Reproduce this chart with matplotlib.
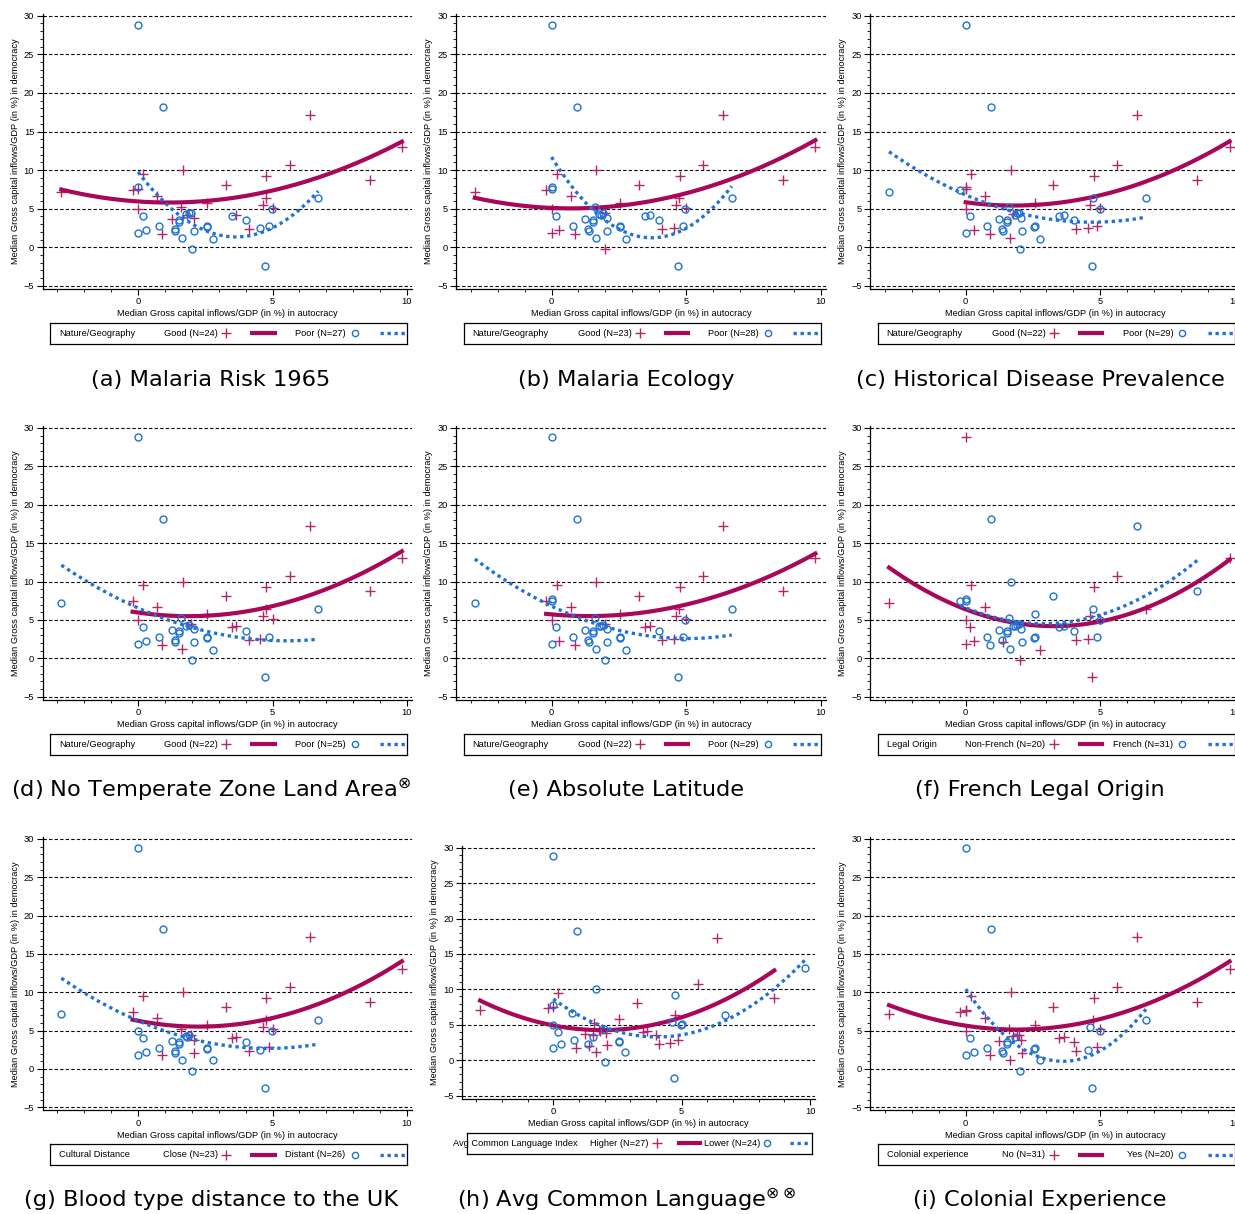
import numpy as np
import matplotlib.pyplot as plt

plt.rcParams['font.family'] = ['Liberation Sans', 'DejaVu Sans']

W, H = 1235, 1214

# median gross capital inflows/GDP (in %) per country: autocracy (x), democracy (y)
pt_x = [-2.85, -0.2, 0.0, 0.0, 0.2, 0.0, 0.17, 0.0, 0.29, 0.0,
        0.94, 0.71, 0.79, 0.89, 1.25, 1.36, 1.38, 1.54, 1.54, 1.6,
        1.65, 1.67, 1.77, 1.9, 1.98, 2.0, 2.08, 2.07, 2.56, 2.55,
        2.56, 2.78, 3.26, 3.48, 3.66, 4.01, 4.11, 4.55, 4.63, 4.71,
        4.76, 4.75, 4.87, 4.98, 5.0, 5.64, 6.38, 6.7, 8.61, 9.81,
        1.83]
pt_y = [7.15, 7.42, 7.75, 7.5, 9.5, 4.95, 4.06, 1.8, 2.25, 28.8,
        18.2, 6.7, 2.8, 1.77, 3.65, 2.33, 2.07, 3.55, 3.3, 5.2,
        1.17, 10.0, 4.27, 4.4, 4.45, -0.26, 2.15, 3.8, 2.78, 2.6,
        5.8, 1.12, 8.07, 4.06, 4.15, 3.5, 2.33, 2.46, 5.45, -2.44,
        9.24, 6.45, 2.82, 4.96, 5.15, 10.7, 17.2, 6.45, 8.75, 13.05,
        4.2]

captions = ['(a) Malaria Risk 1965', '(b) Malaria Ecology',
            '(c) Historical Disease Prevalence',
            r'(d) No Temperate Zone Land Area$^{\otimes}$',
            '(e) Absolute Latitude', '(f) French Legal Origin',
            '(g) Blood type distance to the UK',
            r'(h) Avg Common Language$^{\otimes\otimes}$',
            '(i) Colonial Experience']
legend_titles = ['Nature/Geography'] * 5 + ['Legal Origin', 'Cultural Distance',
                                            'Avg Common Language Index',
                                            'Colonial experience']
first_names = ['Good'] * 5 + ['Non-French', 'Close', 'Higher', 'No']
second_names = ['Poor'] * 5 + ['French', 'Distant', 'Lower', 'Yes']

# countries in the first group (crosses) of each split
first_ids = [
    [0, 1, 3, 4, 5, 11, 13, 14, 19, 21, 27, 30, 32, 34, 36, 38, 40, 41, 44, 45, 46, 48, 49, 50],
    [0, 1, 4, 5, 7, 8, 11, 13, 21, 24, 25, 30, 32, 36, 37, 38, 40, 41, 44, 45, 46, 48, 49],
    [2, 3, 4, 5, 8, 11, 13, 20, 21, 22, 30, 32, 36, 37, 38, 40, 42, 44, 45, 46, 48, 49],
    [1, 4, 5, 11, 13, 20, 21, 24, 30, 32, 33, 34, 36, 37, 38, 40, 41, 44, 45, 46, 48, 49],
    [1, 4, 5, 8, 11, 13, 21, 24, 30, 32, 33, 34, 36, 37, 38, 40, 41, 44, 45, 46, 48, 49],
    [0, 4, 5, 6, 7, 8, 9, 11, 16, 25, 31, 36, 37, 38, 39, 40, 44, 45, 47, 49],
    [1, 4, 11, 13, 19, 21, 24, 26, 27, 30, 32, 33, 34, 36, 38, 40, 41, 42, 44, 45, 46, 48, 49],
    [0, 1, 3, 4, 13, 14, 16, 17, 19, 20, 22, 23, 26, 27, 30, 32, 33, 34, 35, 36, 37, 41, 42,
     45, 46, 48, 50],
    [0, 1, 2, 3, 4, 5, 11, 13, 14, 19, 20, 21, 22, 23, 24, 26, 27, 30, 32, 33, 34, 35, 36, 40,
     41, 42, 44, 45, 46, 48, 49],
]
# countries without data for the splitting variable
missing_ids = [[], [], [], [2, 3, 43, 50], [], [], [2, 3], [], []]

RED = '#a8075a'
RED_PTS = '#b3266a'
BLUE = '#1f72d4'
XLIM = (-3.55, 10.2)
YLIM = (-5.4, 30.2)
FS = 6.7

fig = plt.figure(figsize=(W / 100, H / 100), dpi=100)


def place(left, top, width, height):
    return fig.add_axes([left / W, 1 - (top + height) / H, width / W, height / H])


col_zero = [138, 551.5, 965.7]
row_zero = [247.3, 658.3, 1069]
row_scale = [7.72, 7.68, 7.67]
cap_x = [211, 626, 1040]
cap_y = [380, 790, 1200]

x_all = np.array(pt_x)
y_all = np.array(pt_y)

for k in range(9):
    col, row = k % 3, k // 3
    if k == 7:
        x0, y0, sx, sy = 553.3, 1060.3, 25.67, 7.09
    else:
        x0, y0, sx, sy = col_zero[col], row_zero[row], 26.9, row_scale[row]
    left = x0 + XLIM[0] * sx
    width = (XLIM[1] - XLIM[0]) * sx
    top = y0 - YLIM[1] * sy
    height = (YLIM[1] - YLIM[0]) * sy
    ax = place(left, top, width, height)

    g1 = np.array(first_ids[k])
    g2 = np.array([i for i in range(len(pt_x)) if i not in first_ids[k] and i not in missing_ids[k]])

    for yv in range(-5, 31, 5):
        ax.axhline(yv, color='black', lw=0.8, ls=(0, (3, 2)), zorder=0)

    # group 1: crosses with a solid quadratic fit
    ax.plot(x_all[g1], y_all[g1], '+', ms=7.5, mew=1, color=RED_PTS, zorder=2)
    xs = np.linspace(x_all[g1].min(), x_all[g1].max(), 200)
    ax.plot(xs, np.polyval(np.polyfit(x_all[g1], y_all[g1], 2), xs), color=RED, lw=3, zorder=3)
    # group 2: hollow circles with a dotted quadratic fit
    ax.plot(x_all[g2], y_all[g2], 'o', ms=5, mfc='none', mew=1, color=BLUE, zorder=4)
    xs = np.linspace(x_all[g2].min(), x_all[g2].max(), 200)
    ax.plot(xs, np.polyval(np.polyfit(x_all[g2], y_all[g2], 2), xs), color=BLUE, lw=2.4,
            ls=(0, (1, 1.1)), zorder=5)

    ax.set_xlim(XLIM)
    ax.set_ylim(YLIM)
    ax.set_xticks([0, 5, 10])
    ax.set_xticks(range(-3, 11), minor=True)
    ax.set_yticks(range(-5, 31, 5))
    ax.set_yticks(range(-5, 31), minor=True)
    ax.tick_params(which='major', length=4, width=0.8, labelsize=FS, pad=2)
    ax.tick_params(which='minor', length=2, width=0.6)
    for s in ['top', 'right']:
        ax.spines[s].set_visible(False)
    for s in ['left', 'bottom']:
        ax.spines[s].set_linewidth(0.9)
    ax.set_xlabel('Median Gross capital inflows/GDP (in %) in autocracy', fontsize=FS, labelpad=2)
    ax.set_ylabel('Median Gross capital inflows/GDP (in %) in democracy', fontsize=FS, labelpad=3)

    # legend box under the plot
    if k == 7:
        box_left, box_w = left + 4.8, 345
        pos = dict(title=-0.04, lab1=0.525, m1=0.55, ln=(0.616, 0.675), lab2=0.85, m2=0.87,
                   dots=(0.936, 0.994))
    else:
        box_left, box_w = left + 7.5, 357
        pos = dict(title=0.025, lab1=0.47, m1=0.494, ln=(0.567, 0.629), lab2=0.828, m2=0.853,
                   dots=(0.924, 0.995))
    lax = place(box_left, top + height + 34, box_w, 21)
    lax.set_xlim(0, 1)
    lax.set_ylim(0, 1)
    lax.set_xticks([])
    lax.set_yticks([])
    for s in lax.spines.values():
        s.set_linewidth(0.9)
    lax.text(pos['title'], 0.5, legend_titles[k], fontsize=FS, ha='left', va='center')
    lax.text(pos['lab1'], 0.5, '%s (N=%d)' % (first_names[k], len(g1)), fontsize=FS,
             ha='right', va='center')
    lax.plot([pos['m1']], [0.5], '+', ms=7, mew=1, color=RED_PTS, clip_on=False)
    lax.plot(pos['ln'], [0.5, 0.5], color=RED, lw=3, clip_on=False)
    lax.text(pos['lab2'], 0.5, '%s (N=%d)' % (second_names[k], len(g2)), fontsize=FS,
             ha='right', va='center')
    lax.plot([pos['m2']], [0.5], 'o', ms=4.5, mfc='none', mew=1, color=BLUE, clip_on=False)
    lax.plot(pos['dots'], [0.5, 0.5], color=BLUE, lw=2.4, ls=(0, (1, 1.1)), clip_on=False)

    fig.text(cap_x[col] / W, 1 - cap_y[row] / H, captions[k], fontsize=16.2,
             family='DejaVu Sans', ha='center', va='center')

fig.savefig('out.png', dpi=100)
